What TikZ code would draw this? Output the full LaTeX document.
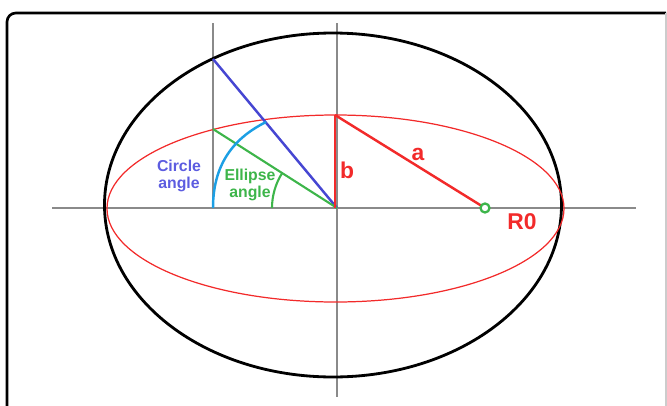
\documentclass[tikz,border=0pt]{standalone}
\usepackage{fontspec}
\setmainfont{Liberation Sans}
\usepackage{xcolor}
\usetikzlibrary{calc}
\definecolor{redE}{HTML}{F22A2A}
\definecolor{blueC}{HTML}{4646D2}
\definecolor{blueT}{HTML}{5C5CE0}
\definecolor{greenE}{HTML}{3DB54A}
\definecolor{cyanA}{HTML}{1C9FE4}
\definecolor{axisgrey}{HTML}{8A8A8A}

\begin{document}
\begin{tikzpicture}[
    x=0.02cm, y=-0.02cm,
    axisline/.style={draw=axisgrey, line width=1.1pt},
    smalllbl/.style={font=\bfseries\fontsize{9}{9.5}\selectfont, align=center, inner sep=0pt},
    biglbl/.style={font=\bfseries\fontsize{13}{13}\selectfont, text=redE, inner sep=0pt}
]
\useasboundingbox (0,0) rectangle (667,406);

% frame
\coordinate (fBL) at (7,406);
\coordinate (fTL) at (7,13);
\coordinate (fTR) at (666,13);
\coordinate (fBR) at (666,406);
\draw[line width=1.5pt, rounded corners=5pt] (fBL) -- (fTL) -- (fTR);
\draw[black!20, line width=0.6pt] (fTR) -- (fBR);

% axes
\coordinate (O) at (337,208);
\coordinate (xL) at (52,208);
\coordinate (xR) at (636,208);
\coordinate (yT) at (337,23);
\coordinate (yB) at (337,397);
\coordinate (vT) at (213,23);
\coordinate (vB) at (213,208);
\draw[axisline] (xL) -- (xR);
\draw[axisline] (yT) -- (yB);
\draw[axisline] (vT) -- (vB);

% circle and ellipse
\draw[line width=1.6pt] (333,205) ellipse [x radius=228.5, y radius=172];
\draw[redE, line width=0.7pt] (335.5,208.5) ellipse [x radius=228.5, y radius=93.5];

% angles
\coordinate (cP) at (213,59);
\coordinate (eP) at (213,129);
\coordinate (cX) at (266,122);
\draw[blueC, line width=1.4pt] (cP) -- (O);
\draw[greenE, line width=1.2pt] (eP) -- (O);
\draw[cyanA, line width=1.4pt] (vB) .. controls (213,160) and (238,136) .. (cX);
\coordinate (gA) at (272,208);
\draw[greenE, line width=1.2pt] (gA) arc[start angle=180, end angle=212.5, radius=65];

% a and b
\coordinate (bT) at (335,115);
\coordinate (bB) at (335,208);
\coordinate (R) at (485,208);
\draw[redE, line width=1.4pt] (bT) -- (bB);
\draw[redE, line width=1.4pt] (bT) -- (R);
\draw[greenE, line width=1.3pt, fill=white] (R) circle[radius=4.5];

% labels
\node[smalllbl, text=blueT] (circLbl) at (179,176) {Circle\\angle};
\node[smalllbl, text=greenE] (ellLbl) at (250,185) {Ellipse\\angle};
\node[biglbl] (bLbl) at (347,170) {b};
\node[biglbl] (aLbl) at (418,154) {a};
\node[biglbl] (rLbl) at (522,222) {R0};
\end{tikzpicture}
\end{document}
